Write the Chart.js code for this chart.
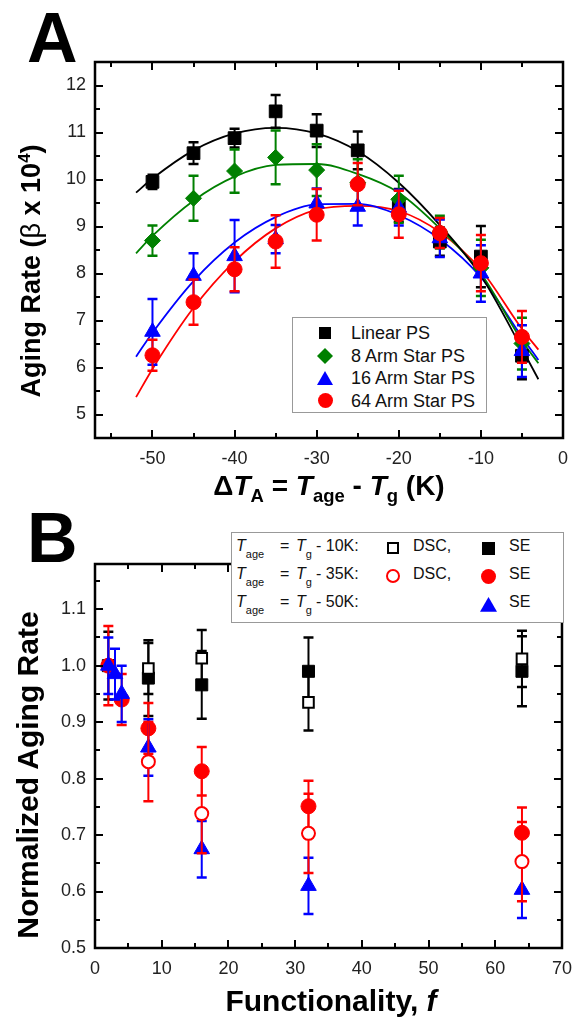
<!DOCTYPE html>
<html><head><meta charset="utf-8">
<script src="https://cdn.jsdelivr.net/npm/chart.js@4/dist/chart.umd.min.js"></script>
<style>
html,body{margin:0;padding:0;background:#fff;}
#wrap{position:relative;width:582px;height:1019px;overflow:hidden;font-family:'Liberation Sans',Arial,sans-serif;color:#000;}
canvas{position:absolute;left:0;}
.ytitle{position:absolute;transform:translate(-50%,-50%) rotate(-90deg);white-space:nowrap;font-weight:bold;line-height:1;}
.xtitle{position:absolute;transform:translateX(-50%);white-space:nowrap;font-weight:bold;}
.letter{position:absolute;font-weight:bold;font-size:70px;line-height:70px;}
sub{font-size:0.66em;vertical-align:-0.4em;line-height:0;}
sup{font-size:0.62em;vertical-align:0.55em;line-height:0;}
.box{position:absolute;border:1px solid #999;background:#fff;box-sizing:border-box;}
.lt{position:absolute;white-space:nowrap;font-size:18px;line-height:22px;color:#111;}
.bt{position:absolute;white-space:nowrap;font-size:16px;line-height:20px;color:#111;}
.bt sub{font-size:11px;vertical-align:-7px;}
.sym{position:absolute;}
</style></head>
<body>
<div id="wrap">
  <canvas id="cA" width="582" height="520" style="top:0"></canvas>
  <canvas id="cB" width="582" height="499" style="top:520px"></canvas>

  <div class="letter" style="left:27px;top:3px">A</div>
  <div class="letter" style="left:27px;top:503px">B</div>

  <div class="ytitle" style="left:31px;top:271px;font-size:27px">Aging Rate (<span style="font-weight:normal">β</span> x 10<sup>4</sup>)</div>
  <div class="xtitle" style="left:329px;top:472px;font-size:28px;line-height:28px">Δ<i>T</i><sub>A</sub> = <i>T</i><sub>age</sub> - <i>T</i><sub>g</sub> (K)</div>

  <div class="ytitle" style="left:28px;top:775px;font-size:30px">Normalized Aging Rate</div>
  <div class="xtitle" style="left:331px;top:986px;font-size:30px;line-height:30px">Functionality, <i>f</i></div>

  <div class="box" style="left:292px;top:317px;width:195px;height:96px"></div>
  <div class="box" style="left:231px;top:532px;width:333px;height:91px"></div>
  <div id="legends"></div>
</div>
<script>
// ---------- Panel A data ----------
const tempA = [-50, -45, -40, -35, -30, -25, -20, -15, -10, -5];
const linearPS = [9.95, 10.56, 10.88, 11.45, 11.04, 10.62, 9.45, 8.68, 8.36, 6.25];
const linearErr = [0.15, 0.23, 0.2, 0.35, 0.35, 0.4, 0.35, 0.3, 0.65, 0.5];
const arm8PS = [8.70, 9.60, 10.18, 10.47, 10.20, 9.93, 9.58, 8.88, 8.12, 6.51];
const arm8Err = [0.32, 0.48, 0.46, 0.57, 0.55, 0.5, 0.5, 0.35, 0.6, 0.55];
const arm16PS = [6.76, 7.95, 8.37, 8.73, 9.49, 9.42, 9.40, 8.75, 8.00, 6.35];
const arm16Err = [0.7, 0.48, 0.77, 0.3, 0.32, 0.4, 0.38, 0.4, 0.6, 0.55];
const arm64PS = [6.26, 7.39, 8.09, 8.68, 9.25, 9.90, 9.26, 8.86, 8.22, 6.65];
const arm64Err = [0.33, 0.48, 0.47, 0.56, 0.55, 0.45, 0.5, 0.32, 0.6, 0.55];
// fit curves
const fitT = [-52, -50, -45, -40, -35, -30, -25, -20, -15, -10, -5, -3];
const fitLinear = [9.72, 10.02, 10.62, 10.98, 11.1, 10.98, 10.6, 9.93, 9.03, 7.95, 6.4, 5.75];
const fit8 = [8.43, 8.80, 9.55, 10.06, 10.31, 10.33, 10.12, 9.72, 8.96, 8.0, 6.57, 6.09];
const fit16 = [6.23, 6.74, 7.84, 8.66, 9.2, 9.47, 9.48, 9.24, 8.73, 7.92, 6.65, 6.16];
const fit64 = [5.37, 5.97, 7.27, 8.26, 8.96, 9.36, 9.44, 9.33, 8.88, 8.08, 6.82, 6.38];
const tickXA = [-50, -40, -30, -20, -10, 0];
const minorXA = [-55, -45, -35, -25, -15, -5];
const tickYA = [5, 6, 7, 8, 9, 10, 11, 12];
const minorYA = [5.5, 6.5, 7.5, 8.5, 9.5, 10.5, 11.5];

// ---------- Panel B data ----------
const fSE10 = [2, 8, 16, 32, 64];
const se10 = [1.0, 0.978, 0.966, 0.99, 0.99];
const se10Err = [0.06, 0.067, 0.06, 0.06, 0.062];
const fDSC10 = [8, 16, 32, 64];
const dsc10 = [0.995, 1.013, 0.935, 1.012];
const dsc10Err = [0.045, 0.05, 0.05, 0.05];
const fSE35 = [2, 4, 8, 16, 32, 64];
const se35 = [1.0, 0.94, 0.889, 0.813, 0.751, 0.704];
const se35Err = [0.07, 0.045, 0.045, 0.043, 0.045, 0.045];
const fDSC35 = [8, 16, 32, 64];
const dsc35 = [0.83, 0.738, 0.703, 0.653];
const dsc35Err = [0.07, 0.07, 0.07, 0.07];
const fSE50 = [2, 3, 4, 8, 16, 32, 64];
const se50 = [1.0, 0.985, 0.95, 0.855, 0.675, 0.61, 0.603];
const se50Err = [0.05, 0.045, 0.05, 0.05, 0.05, 0.05, 0.05];
const tickXB = [0, 10, 20, 30, 40, 50, 60, 70];
const minorXB = [5, 15, 25, 35, 45, 55, 65];
const tickYB = [0.5, 0.6, 0.7, 0.8, 0.9, 1.0, 1.1];
const minorYB = [0.55, 0.65, 0.75, 0.85, 0.95, 1.05, 1.15];

const GREEN = '#008000', BLUE = '#0000ff', RED = '#ff0000', BLACK = '#000000';
const FONT = "'Liberation Sans', Arial, sans-serif";

const pts = (xs, ys) => xs.map((x, i) => ({x, y: ys[i]}));

const errorBars = {
  id: 'errorBars',
  beforeDatasetDraw(chart, args) {
    const ds = chart.data.datasets[args.index];
    if (!ds.errors) return;
    const ys = chart.scales.y, ctx = chart.ctx;
    ctx.save();
    ctx.strokeStyle = ds.errColor;
    ctx.lineCap = 'butt';
    args.meta.data.forEach((el, i) => {
      const e = ds.errors[i];
      if (e == null) return;
      const v = ds.data[i].y;
      const x = el.x;
      const y1 = ys.getPixelForValue(v + e), y2 = ys.getPixelForValue(v - e);
      ctx.lineWidth = 2;
      ctx.beginPath(); ctx.moveTo(x, y1); ctx.lineTo(x, y2); ctx.stroke();
      ctx.lineWidth = 2.5;
      ctx.beginPath();
      ctx.moveTo(x - 5, y1); ctx.lineTo(x + 5, y1);
      ctx.moveTo(x - 5, y2); ctx.lineTo(x + 5, y2);
      ctx.stroke();
    });
    ctx.restore();
  }
};

const boxTicks = {
  id: 'boxTicks',
  afterDraw(chart, args, o) {
    const {ctx, chartArea: a, scales: {x, y}} = chart;
    ctx.save();
    ctx.strokeStyle = '#000';
    ctx.lineWidth = 2;
    const vt = (vals, len) => vals.forEach(v => {
      const p = Math.round(x.getPixelForValue(v));
      ctx.beginPath();
      ctx.moveTo(p, a.bottom); ctx.lineTo(p, a.bottom - len);
      ctx.moveTo(p, a.top); ctx.lineTo(p, a.top + len);
      ctx.stroke();
    });
    const ht = (vals, len) => vals.forEach(v => {
      const p = Math.round(y.getPixelForValue(v));
      ctx.beginPath();
      ctx.moveTo(a.left, p); ctx.lineTo(a.left + len, p);
      ctx.moveTo(a.right, p); ctx.lineTo(a.right - len, p);
      ctx.stroke();
    });
    vt(o.majorX, 8); vt(o.minorX, 5);
    ht(o.majorY, 8); ht(o.minorY, 5);
    ctx.lineWidth = 2.5;
    ctx.strokeRect(a.left, a.top, a.right - a.left, a.bottom - a.top);
    ctx.restore();
  }
};

function axisX(min, max, ticks, height, fmt) {
  return {
    type: 'linear', position: 'bottom', min, max,
    afterBuildTicks: s => { s.ticks = ticks.map(v => ({value: v})); },
    afterFit: s => { s.height = height; },
    grid: {display: false, drawTicks: false}, border: {display: false},
    ticks: {padding: 10, color: '#222', font: {family: FONT, size: 18}, maxRotation: 0, autoSkip: false,
      callback: fmt}
  };
}
function axisY(min, max, ticks, width, fmt) {
  return {
    type: 'linear', position: 'left', min, max,
    afterBuildTicks: s => { s.ticks = ticks.map(v => ({value: v})); },
    afterFit: s => { s.width = width; },
    grid: {display: false, drawTicks: false}, border: {display: false},
    ticks: {padding: 9, color: '#222', font: {family: FONT, size: 18}, autoSkip: false,
      callback: fmt}
  };
}

function curve(ys, color) {
  return {data: pts(fitT, ys), showLine: true, borderColor: color, borderWidth: 1.8,
    pointRadius: 0, cubicInterpolationMode: 'monotone', fill: false, order: 20};
}
function series(xs, ys, errs, color, style, radius, order, open) {
  return {data: pts(xs, ys), errors: errs, errColor: color, showLine: false,
    pointStyle: style, pointRadius: radius, pointHoverRadius: radius,
    backgroundColor: open ? '#ffffff' : color, borderColor: color,
    borderWidth: open ? 2 : 1, order};
}

new Chart(document.getElementById('cA'), {
  type: 'scatter',
  data: {datasets: [
    curve(fitLinear, BLACK), curve(fit8, GREEN), curve(fit16, BLUE), curve(fit64, RED),
    series(tempA, linearPS, linearErr, BLACK, 'rect', 9, 4),
    series(tempA, arm8PS, arm8Err, GREEN, 'rectRot', 8, 3),
    series(tempA, arm16PS, arm16Err, BLUE, 'triangle', 9, 2),
    series(tempA, arm64PS, arm64Err, RED, 'circle', 7.5, 1)
  ]},
  options: {
    responsive: false, animation: false, devicePixelRatio: 1,
    layout: {padding: {left: 0, right: 19, top: 62, bottom: 0}},
    plugins: {legend: {display: false}, tooltip: {enabled: false},
      boxTicks: {majorX: tickXA, minorX: minorXA, majorY: tickYA, minorY: minorYA}},
    scales: {
      x: axisX(-57, 0, tickXA, 82, v => String(v)),
      y: axisY(4.5, 12.5, tickYA, 95, v => String(v))
    }
  },
  plugins: [errorBars, boxTicks]
});

new Chart(document.getElementById('cB'), {
  type: 'scatter',
  data: {datasets: [
    series(fSE10, se10, se10Err, BLACK, 'rect', 8.5, 5),
    series(fSE35, se35, se35Err, RED, 'circle', 7.5, 4),
    series(fSE50, se50, se50Err, BLUE, 'triangle', 9, 3),
    series(fDSC10, dsc10, dsc10Err, BLACK, 'rect', 7.5, 2, true),
    series(fDSC35, dsc35, dsc35Err, RED, 'circle', 6.5, 1, true)
  ]},
  options: {
    responsive: false, animation: false, devicePixelRatio: 1,
    layout: {padding: {left: 0, right: 15, top: 44, bottom: 0}},
    plugins: {legend: {display: false}, tooltip: {enabled: false},
      boxTicks: {majorX: tickXB, minorX: minorXB, majorY: tickYB, minorY: minorYB}},
    scales: {
      x: axisX(0, 70, tickXB, 71, v => String(v)),
      y: axisY(0.5, 1.18, tickYB, 95, v => v.toFixed(1))
    }
  },
  plugins: [errorBars, boxTicks]
});

// ---------- Legends (HTML) ----------
function sym(shape, color, open, cx, cy, s) {
  const h = s / 2;
  let inner = '';
  const fill = open ? '#fff' : color;
  const sw = open ? 2 : 0;
  if (shape === 'square') inner = `<rect x="${2 + sw / 2}" y="${2 + sw / 2}" width="${s - sw}" height="${s - sw}" fill="${fill}" stroke="${color}" stroke-width="${sw}"/>`;
  if (shape === 'circle') inner = `<circle cx="${h + 2}" cy="${h + 2}" r="${h - sw / 2}" fill="${fill}" stroke="${color}" stroke-width="${sw}"/>`;
  if (shape === 'diamond') inner = `<polygon points="${h + 2},2 ${s + 2},${h + 2} ${h + 2},${s + 2} 2,${h + 2}" fill="${fill}"/>`;
  if (shape === 'triangle') inner = `<polygon points="${h + 2},2 ${s + 2},${s * 0.87 + 2} 2,${s * 0.87 + 2}" fill="${fill}"/>`;
  const off = shape === 'triangle' ? s * 0.435 : h;
  return `<svg class="sym" width="${s + 4}" height="${s + 4}" style="left:${cx - h - 2}px;top:${cy - off - 2}px">${inner}</svg>`;
}
const legA = [
  ['square', BLACK, 'Linear PS', 12],
  ['diamond', GREEN, '8 Arm Star PS', 16],
  ['triangle', BLUE, '16 Arm Star PS', 16],
  ['circle', RED, '64 Arm Star PS', 15]
];
let html = '';
const rowA = [333, 355.5, 378, 400.5];
legA.forEach((r, i) => {
  html += sym(r[0], r[1], false, 325, rowA[i], r[3]);
  html += `<div class="lt" style="left:351px;top:${rowA[i] - 11}px">${r[2]}</div>`;
});
const rowB = [548, 576, 604];
const legB = ['10K:', '35K:', '50K:'];
legB.forEach((k, i) => {
  const cy = rowB[i], top = cy - 12;
  html += `<div class="bt" style="left:236px;top:${top}px"><i>T</i><sub>age</sub></div>`;
  html += `<div class="bt" style="left:280px;top:${top}px">=</div>`;
  html += `<div class="bt" style="left:296px;top:${top}px"><i>T</i><sub>g</sub></div>`;
  html += `<div class="bt" style="left:316px;top:${top}px">- ${k}</div>`;
  html += `<div class="bt" style="left:509px;top:${top}px">SE</div>`;
});
html += sym('square', BLACK, true, 393, rowB[0], 12);
html += `<div class="bt" style="left:413px;top:${rowB[0] - 12}px">DSC,</div>`;
html += sym('square', BLACK, false, 488, rowB[0], 13);
html += sym('circle', RED, true, 393, rowB[1], 14);
html += `<div class="bt" style="left:413px;top:${rowB[1] - 12}px">DSC,</div>`;
html += sym('circle', RED, false, 488, rowB[1], 15);
html += sym('triangle', BLUE, false, 488, rowB[2], 17);
document.getElementById('legends').innerHTML = html;
</script>
</body></html>
